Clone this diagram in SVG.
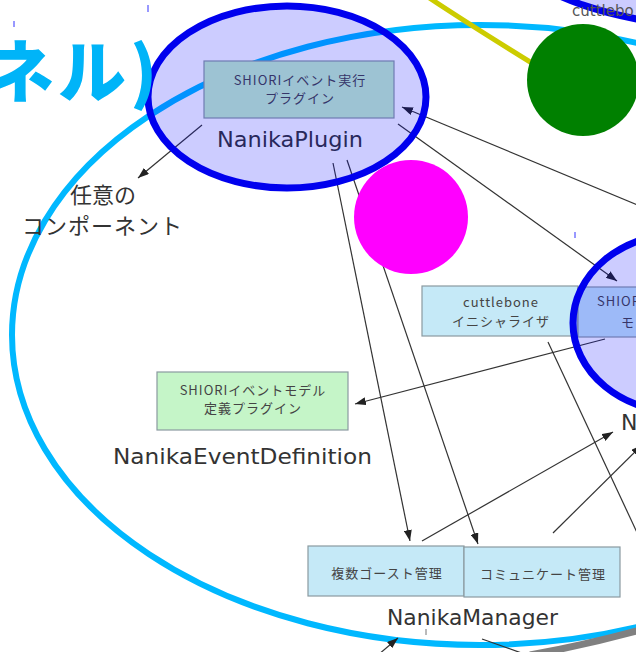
<svg xmlns="http://www.w3.org/2000/svg" width="636" height="652" viewBox="0 0 636 652">
<defs>
<marker id="ah" viewBox="0 0 11 8" refX="11" refY="4" markerWidth="11" markerHeight="8" markerUnits="userSpaceOnUse" orient="auto">
<path d="M0,0 L11,4 L0,8 z" fill="#222"/>
</marker>
</defs>
<style>
.cx{fill:none;stroke:#333;stroke-width:1.2;marker-end:url(#ah)}
.ln{fill:none;stroke:#333;stroke-width:1.2}
.bx{stroke:#8a9aa0;stroke-width:1.2}
.bt{font-family:"Noto Sans CJK JP","Noto Sans",sans-serif;font-size:13px;letter-spacing:1px;fill:#444;text-anchor:middle}
.lb{font-family:"DejaVu Sans",sans-serif;font-size:22px;fill:#333;text-anchor:middle}
.jl{font-family:"Noto Sans CJK JP",sans-serif;font-size:22px;fill:#333;text-anchor:middle}
.ov{fill:#0000ff;fill-opacity:0.2;stroke:#0000ee;stroke-width:7}
.tk{stroke:#3333ff;stroke-width:1}
</style>
<rect width="636" height="652" fill="#ffffff"/>
<ellipse cx="480" cy="335" rx="468" ry="310" fill="none" stroke="#00b8ff" stroke-width="6"/>
<path d="M428,-3 Q470,25 540,68" fill="none" stroke="#cccc00" stroke-width="5"/>
<g id="connectors">
<line class="cx" x1="202" y1="125" x2="138" y2="178"/>
<line class="cx" x1="640" y1="206" x2="402" y2="107"/>
<line class="cx" x1="398" y1="124" x2="617" y2="281"/>
<line class="cx" x1="333" y1="163" x2="410" y2="541"/>
<line class="cx" x1="347" y1="160" x2="478" y2="544"/>
<line class="cx" x1="605" y1="339" x2="355" y2="404"/>
<line class="cx" x1="422" y1="541" x2="613" y2="432"/>
<line class="cx" x1="553" y1="533" x2="642" y2="445"/>
<line class="ln" x1="548" y1="342" x2="648" y2="556"/>
<line class="cx" x1="378" y1="655" x2="398" y2="638"/>
<line class="ln" x1="482" y1="639" x2="530" y2="656"/>
</g>
<g id="nanikaPlugin">
<rect class="bx" x="204" y="61" width="190" height="57" fill="#c5f4c9"/>
<text class="bt" x="300" y="85">SHIORIイベント実行</text>
<text class="bt" x="300" y="103">プラグイン</text>
<text class="lb" x="290" y="147" textLength="146" lengthAdjust="spacingAndGlyphs">NanikaPlugin</text>
</g>
<g id="anyComponent">
<text class="jl" x="103" y="203">任意の</text>
<text class="jl" x="102" y="234" textLength="160" lengthAdjust="spacing">コンポーネント</text>
</g>
<g id="nanikaEventDefinition">
<rect class="bx" x="157" y="372" width="191" height="58" fill="#c5f5c8"/>
<text class="bt" x="253" y="395">SHIORIイベントモデル</text>
<text class="bt" x="253" y="413">定義プラグイン</text>
<text class="lb" x="242.5" y="464" textLength="259" lengthAdjust="spacingAndGlyphs">NanikaEventDefinition</text>
</g>
<g id="cuttleboneInitializer">
<rect class="bx" x="422" y="286" width="156" height="50" fill="#c5e9f7"/>
<text class="bt" x="501" y="307">cuttlebone</text>
<text class="bt" x="501" y="326">イニシャライザ</text>
</g>
<g id="shioriModel">
<rect class="bx" x="578" y="287" width="80" height="50" fill="#c5e9f7"/>
<text class="bt" x="597" y="306" style="text-anchor:start">SHIORI</text>
<text class="bt" x="621" y="327" style="text-anchor:start">モ</text>
<text class="lb" x="621" y="430" style="text-anchor:start">N</text>
</g>
<g id="nanikaManager">
<rect class="bx" x="308" y="546" width="156" height="50" fill="#c5e9f7"/>
<text class="bt" x="387" y="578">複数ゴースト管理</text>
<rect class="bx" x="464" y="547" width="156" height="50" fill="#c5e9f7"/>
<text class="bt" x="543" y="579">コミュニケート管理</text>
<text class="lb" x="472.5" y="625" textLength="171" lengthAdjust="spacingAndGlyphs">NanikaManager</text>
</g>
<ellipse class="ov" cx="287" cy="97" rx="139" ry="91"/>
<ellipse class="ov" cx="683" cy="323" rx="110" ry="90"/>
<ellipse class="ov" cx="760" cy="-55" rx="250" ry="85"/>
<text x="572" y="16" font-family="DejaVu Sans, sans-serif" font-size="15" fill="#555">cuttlebo</text>
<circle cx="583" cy="80" r="56" fill="#008000"/>
<circle cx="411" cy="217" r="57" fill="#ff00ff"/>
<path d="M530,655 Q585,645 640,630" fill="none" stroke="#808080" stroke-width="7"/>
<text x="-14" y="97" font-family="Noto Sans CJK JP, sans-serif" font-weight="900" font-size="68" letter-spacing="4" fill="#00b4f8">ネル)</text>
<line class="tk" x1="148" y1="5" x2="148" y2="12"/>
<line class="tk" x1="14" y1="21" x2="14" y2="27"/>
<line class="tk" x1="575" y1="232" x2="575" y2="238"/>
<line x1="426" y1="629" x2="426" y2="635" stroke="#777" stroke-width="1"/>
</svg>
